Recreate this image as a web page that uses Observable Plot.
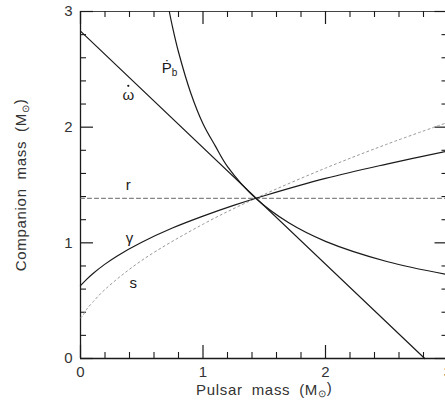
<!DOCTYPE html>
<html><head><meta charset="utf-8">
<script src="https://cdn.jsdelivr.net/npm/d3@7"></script>
<script src="https://cdn.jsdelivr.net/npm/@observablehq/plot@0.6"></script>
<style>body{margin:0;background:#fff;overflow:hidden}</style>
</head><body><div id="chart"></div>
<script>
// ---- data ----
const omegaMp = [0, 2.81];
const omegaMc = [2.83, 0];
const pbMp = [0.725, 0.75, 0.8, 0.9, 1.0, 1.1, 1.2, 1.43, 1.7, 2.0, 2.5, 3.0];
const pbMc = [3.0, 2.872, 2.65, 2.296, 2.03, 1.838, 1.659, 1.385, 1.173, 1.013, 0.839, 0.725];
const gammaMp = [0, 0.05, 0.1, 0.2, 0.3, 0.5, 0.75, 1.0, 1.25, 1.5, 2.0, 2.5, 3.0];
const gammaMc = [0.63, 0.684, 0.733, 0.816, 0.887, 1.005, 1.128, 1.231, 1.324, 1.407, 1.557, 1.681, 1.795];
const sMp = [0, 0.02, 0.05, 0.1, 0.2, 0.5, 1.0, 1.43, 2.0, 2.5, 3.0];
const sMc = [0.35, 0.373, 0.425, 0.487, 0.597, 0.848, 1.161, 1.385, 1.646, 1.852, 2.042];
const rMp = [0, 3];
const rMc = [1.385, 1.385];
const labelText = ["ω", "Ṗb", "r", "γ", "s"];
const labelMp = [0.39, 0.727, 0.39, 0.40, 0.43];
const labelMc = [2.28, 2.51, 1.50, 1.04, 0.65];
const dotMp = [0.39];   // the dot over ω (time derivative)
const dotMc = [2.28];
const xMajor = [0, 1, 2, 3];
const yMajor = [0, 1, 2, 3];
const xMinor = [0.2, 0.4, 0.6, 0.8, 1.2, 1.4, 1.6, 1.8, 2.2, 2.4, 2.6, 2.8];
const yMinor = [0.2, 0.4, 0.6, 0.8, 1.2, 1.4, 1.6, 1.8, 2.2, 2.4, 2.6, 2.8];
const xTitle = "Pulsar mass (M⊙)";
const yTitle = "Companion mass (M⊙)";

const pts = (xs, ys) => xs.map((x, i) => ({x, y: ys[i]}));

const W = 445, H = 401, mL = 80, mR = -2.5, mT = 11, mB = 43;
const kx = (W - mL - mR) / 3, ky = (H - mT - mB) / 3;
const majX = 13 / ky, minX = 6 / ky; // vertical tick lengths in y units
const majY = 13 / kx, minY = 6 / kx; // horizontal tick lengths in x units
const font = "'Liberation Sans', Arial, sans-serif";
const ink = "#1a1a1a";

const svg = Plot.plot({
  width: W, height: H,
  marginLeft: mL, marginRight: mR, marginTop: mT, marginBottom: mB,
  style: {fontFamily: font, background: "#fff", color: "#333"},
  x: {domain: [0, 3]},
  y: {domain: [0, 3]},
  marks: [
    Plot.axisX({ticks: xMajor, tickSize: 0, tickPadding: 8, label: null, fontSize: 15, tickFormat: d => String(d)}),
    Plot.axisY({ticks: yMajor, tickSize: 0, tickPadding: 8, label: null, fontSize: 15, tickFormat: d => String(d)}),
    // frame lines
    Plot.ruleY([0], {stroke: ink, strokeWidth: 1.3}),
    Plot.ruleY([3], {stroke: "#444", strokeWidth: 1}),
    Plot.ruleX([0], {stroke: ink, strokeWidth: 1.3}),
    Plot.ruleX([3], {stroke: "#444", strokeWidth: 1}),
    // inward ticks
    Plot.ruleX(xMajor, {y1: 0, y2: majX, stroke: ink, strokeWidth: 1.2}),
    Plot.ruleX(xMinor, {y1: 0, y2: minX, stroke: ink, strokeWidth: 1.1}),
    Plot.ruleX(xMajor, {y1: 3, y2: 3 - majX, stroke: ink, strokeWidth: 1.2}),
    Plot.ruleX(xMinor, {y1: 3, y2: 3 - minX, stroke: ink, strokeWidth: 1.1}),
    Plot.ruleY(yMajor, {x1: 0, x2: majY, stroke: ink, strokeWidth: 1.2}),
    Plot.ruleY(yMinor, {x1: 0, x2: minY, stroke: ink, strokeWidth: 1.1}),
    Plot.ruleY(yMajor, {x1: 3, x2: 3 - majY, stroke: ink, strokeWidth: 1.2}),
    Plot.ruleY(yMinor, {x1: 3, x2: 3 - minY, stroke: ink, strokeWidth: 1.1}),
    // curves
    Plot.line(pts(rMp, rMc), {x: "x", y: "y", stroke: "#666", strokeWidth: 1, strokeDasharray: "4,3"}),
    Plot.line(pts(sMp, sMc), {x: "x", y: "y", stroke: "#999", strokeWidth: 1, strokeDasharray: "2,3", curve: "catmull-rom"}),
    Plot.line(pts(omegaMp, omegaMc), {x: "x", y: "y", stroke: ink, strokeWidth: 1.2}),
    Plot.line(pts(gammaMp, gammaMc), {x: "x", y: "y", stroke: ink, strokeWidth: 1.2, curve: "catmull-rom"}),
    Plot.line(pts(pbMp, pbMc), {x: "x", y: "y", stroke: ink, strokeWidth: 1.2, curve: "catmull-rom"}),
    // curve labels
    Plot.text(labelText.map((t, i) => ({t, x: labelMp[i], y: labelMc[i]})), {x: "x", y: "y", text: "t", fontSize: 15, fill: ink}),
    Plot.dot(pts(dotMp, dotMc), {x: "x", y: "y", r: 1.1, fill: ink, stroke: null, dy: -9}),
    // axis titles
    Plot.text([xTitle], {frameAnchor: "bottom", textAnchor: "middle", dy: 36, fontSize: 15, fill: "#333"}),
    Plot.text([yTitle], {frameAnchor: "left", textAnchor: "middle", dx: -59, rotate: -90, fontSize: 15, fill: "#333"})
  ]
});

// subscript post-processing
d3.select(svg).selectAll("text").each(function () {
  const el = d3.select(this);
  const s = this.textContent;
  if (s === xTitle || s === yTitle) {
    const base = s.replace("(M⊙)", "");
    el.text(null).attr("letter-spacing", "0.7px").attr("word-spacing", "4px");
    el.append("tspan").text(base + "(M");
    el.append("tspan").attr("font-size", 10).attr("dy", "0.25em").text("⊙");
    el.append("tspan").attr("dy", "-0.25em").text(")");
  } else if (s === "Ṗb") {
    el.text(null);
    el.append("tspan").text("Ṗ");
    el.append("tspan").attr("font-size", 10).attr("dy", "0.35em").text("b");
  }
});
document.getElementById("chart").appendChild(svg);
</script>
</body></html>
